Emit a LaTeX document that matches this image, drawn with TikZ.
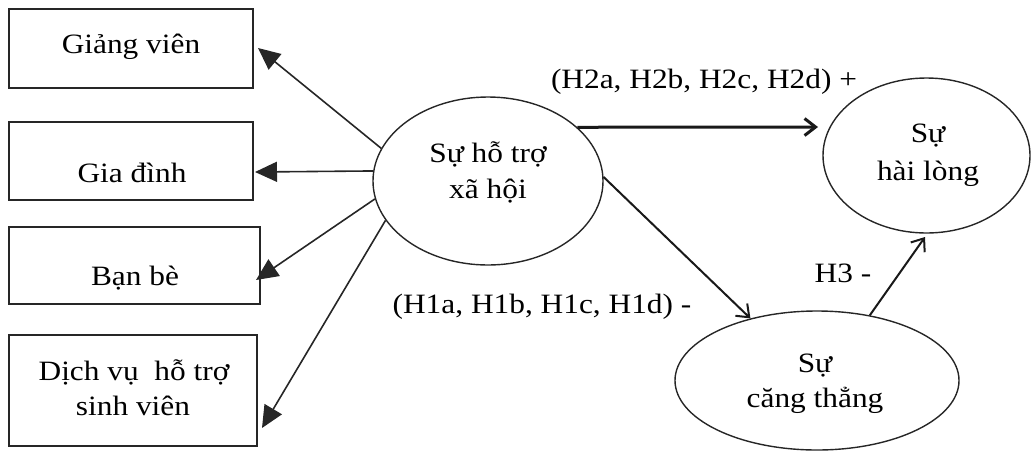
\documentclass[tikz,border=0pt]{standalone}
\usepackage{fontspec}
\setmainfont[FakeStretch=1.12]{Liberation Serif}
\usetikzlibrary{arrows.meta,shapes.geometric}
\tikzset{
  box/.style={draw=black!85, line width=1.7pt, rectangle, inner sep=0pt},
  oval/.style={draw=black!85, line width=1.4pt, ellipse, inner sep=0pt},
  txt/.style={inner sep=0pt, anchor=base, font=\fontsize{28}{34}\selectfont},
  larrow/.style={draw=black!85, line width=1.6pt, -{Triangle[length=22pt,width=20pt]}},
  rarrow/.style={draw=black!90, -{Straight Barb[length=11pt,width=17pt]}}
}
\begin{document}
\begin{tikzpicture}[x=1pt,y=-1pt]
\useasboundingbox (0,0) rectangle (1033,451);
% boxes
\node[box, minimum width=244pt, minimum height=79pt] (gv) at (131,48.5) {};
\node[box, minimum width=244pt, minimum height=78pt] (gd) at (131,161) {};
\node[box, minimum width=251pt, minimum height=77pt] (bb) at (134.5,265.5) {};
\node[box, minimum width=248pt, minimum height=111pt] (dv) at (133,390.5) {};
\node[txt] (gvt) at (131,53) {Giảng viên};
\node[txt] (gdt) at (132,182) {Gia đình};
\node[txt] (bbt) at (135,285) {Bạn bè};
\node[txt] (dvt1) at (134,380) {Dịch vụ\ \ hỗ trợ};
\node[txt] (dvt2) at (133,415) {sinh viên};
% ellipses
\node[oval, minimum width=230pt, minimum height=168pt] (xh) at (488,181) {};
\node[oval, minimum width=207pt, minimum height=155pt] (hl) at (926.5,155.5) {};
\node[oval, minimum width=284pt, minimum height=139pt] (ct) at (817,380.5) {};
\node[txt] (xht1) at (488,162) {Sự hỗ trợ};
\node[txt] (xht2) at (488,198) {xã hội};
\node[txt] (hlt1) at (928,142) {Sự};
\node[txt] (hlt2) at (928,180) {hài lòng};
\node[txt] (ctt1) at (815,372) {Sự};
\node[txt] (ctt2) at (815,407) {căng thẳng};
% free arrow ends
\coordinate (gvtip) at (258,48);
\coordinate (gdtip) at (255,172);
\coordinate (bbtip) at (256,280);
\coordinate (dvtip) at (262,428);
\coordinate (h2tip) at (818,127);
\coordinate (h3tip) at (925,237);
% left arrows
\draw[larrow] (xh.163.4) -- (gvtip);
\draw[larrow] (xh.175.5) -- (gdtip);
\draw[larrow] (xh.189.6) -- (bbtip);
\draw[larrow] (xh.201.3) -- (dvtip);
% right arrows
\draw[rarrow, line width=3pt] (xh.31.5) -- (h2tip);
\draw[rarrow, line width=2pt] (xh.2) -- (ct.137);
\draw[rarrow, line width=2pt] (ct.51) -- (h3tip);
% labels
\node[txt] (l2) at (704,88) {(H2a, H2b, H2c, H2d) +};
\node[txt] (l1) at (542,313) {(H1a, H1b, H1c, H1d) -};
\node[txt] (l3) at (843,282) {H3 -};
\end{tikzpicture}
\end{document}
